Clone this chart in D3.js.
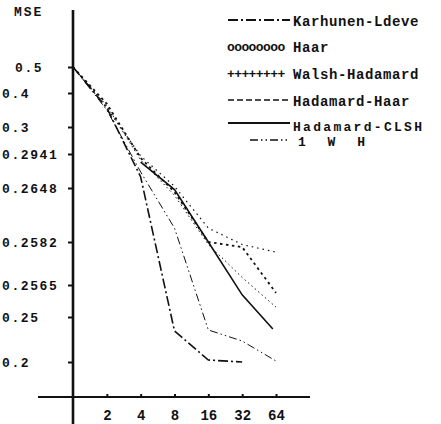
<!DOCTYPE html>
<html lang="en">
<head>
<meta charset="UTF-8">
<title>MSE vs block size</title>
<script src="https://d3js.org/d3.v7.min.js"></script>
<style>
  body { margin: 0; background: #fff; }
  svg text { font-family: "Liberation Mono", "DejaVu Sans Mono", monospace; fill: #111; font-weight: bold; }
  .tick line { stroke: #111; stroke-width: 2; }
  .series { fill: none; stroke: #111; }
</style>
</head>
<body>
<div id="chart"></div>
<script>
// x: block size (log2 spaced), y: MSE on a non-uniform axis
const xTicks = [2, 4, 8, 16, 32, 64];
const yTicks = [0.2, 0.25, 0.2565, 0.2582, 0.2648, 0.2941, 0.3, 0.4, 0.5];

const sizesKL   = [1, 2, 4, 8, 16, 32];
const valuesKL  = [0.5, 0.356, 0.2743, 0.2344, 0.2022, 0.2];
const sizesHaar  = [1, 2, 4, 8, 16, 32, 64];
const valuesHaar = [0.5, 0.356, 0.2924, 0.2662, 0.2599, 0.2581, 0.2578];
const sizesWH  = [1, 2, 4, 8, 16, 32, 64];
const valuesWH = [0.5, 0.368, 0.2907, 0.2643, 0.2582, 0.2580, 0.2549];
const sizesHH  = [1, 2, 4, 8, 16, 32, 64];
const valuesHH = [0.5, 0.362, 0.2889, 0.2639, 0.2581, 0.2568, 0.2520];
const sizesCLSH  = [4, 8, 16, 32, 60];
const valuesCLSH = [0.2872, 0.2646, 0.2582, 0.2545, 0.2367];
const sizesLWH  = [1, 2, 4, 8, 16, 32, 64];
const valuesLWH = [0.5, 0.35, 0.2786, 0.2599, 0.2356, 0.2233, 0.2011];

const series = [
  { name: "Karhunen-Ldeve", x: sizesKL, y: valuesKL, dash: "10,3,2,3", w: 1.6, sym: "line" },
  { name: "Haar", x: sizesHaar, y: valuesHaar, dash: "1.5,4", w: 1.2, sym: "oooooooo" },
  { name: "Walsh-Hadamard", x: sizesWH, y: valuesWH, dash: "2.5,3.5", w: 1.8, sym: "++++++++" },
  { name: "Hadamard-Haar", x: sizesHH, y: valuesHH, dash: "1.5,3", w: 1, sym: "line", ldash: "6,3" },
  { name: "Hadamard-CLSH", x: sizesCLSH, y: valuesCLSH, dash: null, w: 1.6, sym: "line" },
  { name: "1 W H", x: sizesLWH, y: valuesLWH, dash: "8,3,1.5,3,1.5,3", w: 1, sym: "line" }
];

const W = 441, H = 424;
const svg = d3.select("#chart").append("svg").attr("width", W).attr("height", H);

const x = d3.scaleLog().base(2).domain([1, 64]).range([73, 276]);
const y = d3.scaleLinear().domain(yTicks).range([362, 317, 285, 242, 188, 154, 127, 93, 67]);

// axes lines
svg.append("line").attr("x1", 73).attr("x2", 73).attr("y1", 10).attr("y2", 424)
  .attr("stroke", "#111").attr("stroke-width", 2.6);
svg.append("line").attr("x1", 38).attr("x2", 310).attr("y1", 397).attr("y2", 397)
  .attr("stroke", "#111").attr("stroke-width", 2);

const yAxis = svg.append("g").attr("transform", "translate(73,0)")
  .call(d3.axisLeft(y).tickValues(yTicks).tickSize(5).tickFormat(d => String(d)));
yAxis.select(".domain").remove();
yAxis.selectAll("text")
  .attr("text-anchor", "start").attr("x", d => d === 0.5 ? -58 : -71).attr("dy", "0.35em")
  .style("font-size", "13px").style("letter-spacing", "1.6px");

const xAxis = svg.append("g").attr("transform", "translate(0,397)")
  .call(d3.axisTop(x).tickValues(xTicks).tickSize(3).tickFormat(d3.format("d")));
xAxis.select(".domain").remove();
xAxis.selectAll("text").attr("y", 18).attr("dy", "0.35em").style("font-size", "14px");

svg.append("text").attr("x", 14).attr("y", 16).style("font-size", "13px")
  .style("letter-spacing", "2px").text("MSE");

// curves
const line = d3.line().x(d => x(d[0])).y(d => y(d[1]));
series.forEach(s => {
  svg.append("path").attr("class", "series")
    .attr("d", line(d3.zip(s.x, s.y)))
    .attr("stroke-width", s.w)
    .attr("stroke-dasharray", s.dash);
});

// legend
const legY = [20, 46, 73, 100, 123, 140];
const leg = svg.append("g");
series.forEach((s, i) => {
  const yy = legY[i];
  if (s.sym === "line") {
    const x0 = i === 5 ? 250 : 228;
    leg.append("line").attr("x1", x0).attr("x2", 290).attr("y1", yy).attr("y2", yy)
      .attr("stroke", "#111").attr("stroke-width", s.w + 0.4)
      .attr("stroke-dasharray", s.ldash || s.dash);
  } else {
    leg.append("text").attr("x", 227).attr("y", yy).attr("dy", "0.35em")
      .style("font-size", "13px").style("letter-spacing", "-0.6px").text(s.sym);
  }
  leg.append("text").attr("x", i === 5 ? 298 : 293).attr("y", i === 4 ? yy + 3 : yy + 1)
    .attr("dy", "0.35em").style("font-size", i >= 4 ? "13px" : "14px")
    .style("letter-spacing", i === 4 ? "2.3px" : (i === 5 ? "7px" : "0.6px"))
    .text(s.name);
});
</script>
</body>
</html>
